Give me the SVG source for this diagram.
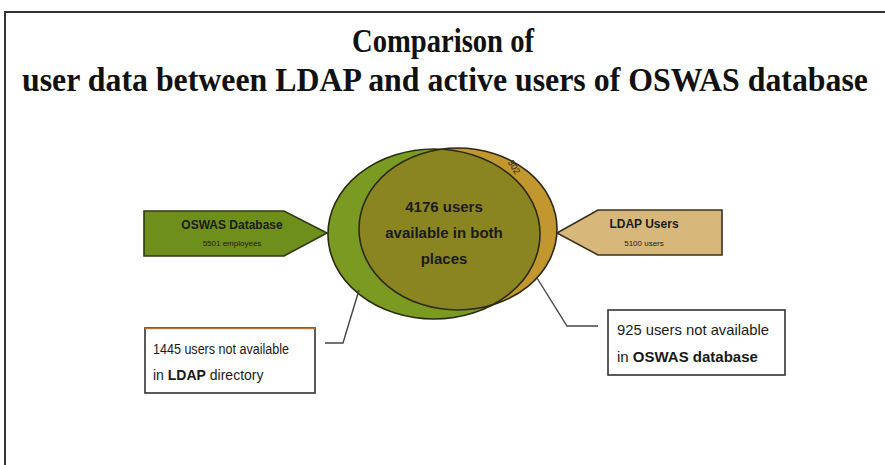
<svg xmlns="http://www.w3.org/2000/svg" width="885" height="465" viewBox="0 0 885 465">
<style>
.title{font-family:"Liberation Serif","Times New Roman",serif;font-weight:bold;fill:#111;}
.lbl{font-family:"Liberation Sans",Arial,sans-serif;fill:#1a1a1a;}
.b{font-weight:bold;}
.box{fill:#fff;stroke:#333;stroke-width:1.6;}
.conn{fill:none;stroke:#444;stroke-width:1.4;}
.edge{fill:none;stroke:#2a2a10;stroke-width:1.6;}
</style>
<defs>
<clipPath id="clipA"><ellipse cx="434" cy="234" rx="106" ry="85"/></clipPath>
</defs>
<rect width="885" height="465" fill="#ffffff"/>
<path d="M5,465 V12 H885" fill="none" stroke="#333" stroke-width="2"/>
<g id="title">
<text class="title" x="0" y="0" font-size="31" text-anchor="middle" textLength="182" lengthAdjust="spacingAndGlyphs" transform="translate(443,52) scale(1,1.07)">Comparison of</text>
<text class="title" x="0" y="0" font-size="31" text-anchor="middle" textLength="846" lengthAdjust="spacingAndGlyphs" transform="translate(445,91) scale(1,1.07)">user data between LDAP and active users of OSWAS database</text>
</g>
<g id="venn">
<ellipse cx="434" cy="234" rx="106" ry="85" fill="#7b9a22"/>
<ellipse cx="458" cy="229" rx="99" ry="81" fill="#c3972f"/>
<ellipse cx="458" cy="229" rx="99" ry="81" fill="#8a8520" clip-path="url(#clipA)"/>
<ellipse cx="434" cy="234" rx="106" ry="85" class="edge"/>
<ellipse cx="458" cy="229" rx="99" ry="81" class="edge"/>
<text class="lbl b" x="444" y="212" font-size="15" text-anchor="middle">4176 users</text>
<text class="lbl b" x="444" y="238" font-size="15" text-anchor="middle">available in both</text>
<text class="lbl b" x="444" y="264" font-size="15" text-anchor="middle">places</text>
<text x="0" y="3" font-size="9" text-anchor="middle" fill="#222" font-family="Liberation Sans, Arial, sans-serif" transform="translate(514,167) rotate(58)">302</text>
</g>
<g id="oswas">
<path d="M144,211 H284 L327,233 L284,256 H144 Z" fill="#6f8f1c" stroke="#2e3a10" stroke-width="1.6"/>
<text class="lbl b" x="232" y="229" font-size="12" text-anchor="middle">OSWAS Database</text>
<text class="lbl" x="232" y="246" font-size="8" text-anchor="middle">5501 employees</text>
</g>
<g id="ldap">
<path d="M557,233 L598,210 H722 V255 H598 Z" fill="#d8b87a" stroke="#3a3020" stroke-width="1.6"/>
<text class="lbl b" x="644" y="228" font-size="12" text-anchor="middle">LDAP Users</text>
<text class="lbl" x="644" y="246" font-size="8" text-anchor="middle">5100 users</text>
</g>
<g id="notInLdap">
<rect class="box" x="145" y="328" width="170" height="65"/>
<line x1="145" y1="328.5" x2="315" y2="328.5" stroke="#b07a3a" stroke-width="1.5"/>
<text class="lbl" x="153" y="354" font-size="14" textLength="136" lengthAdjust="spacingAndGlyphs">1445 users not available</text>
<text class="lbl" x="153" y="380" font-size="14">in <tspan class="b">LDAP</tspan> directory</text>
</g>
<g id="notInOswas">
<rect class="box" x="608" y="310" width="177" height="65"/>
<text class="lbl" x="617" y="335" font-size="15" textLength="152" lengthAdjust="spacingAndGlyphs">925 users not available</text>
<text class="lbl" x="617" y="362" font-size="15">in <tspan class="b">OSWAS database</tspan></text>
</g>
<g id="connectors">
<polyline class="conn" points="359,290 343,343 325,343"/>
<polyline class="conn" points="537,278 567,326 598,326"/>
</g>
</svg>
